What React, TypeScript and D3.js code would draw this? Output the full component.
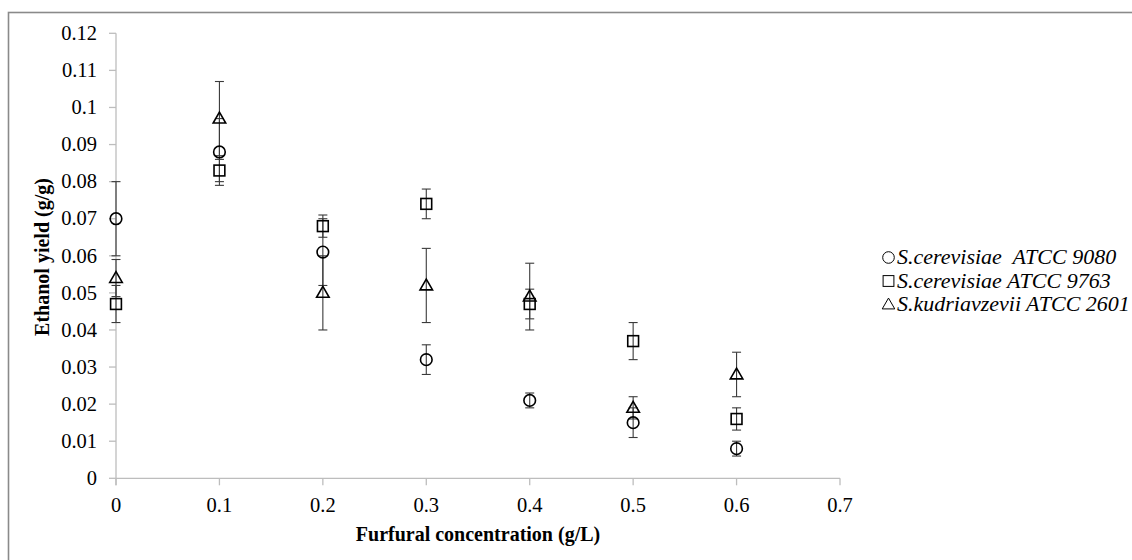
import React from "react";
import * as d3 from "d3";

const furfural = [0, 0.1, 0.2, 0.3, 0.4, 0.5, 0.6];
const atcc9080 = [0.07, 0.088, 0.061, 0.032, 0.021, 0.015, 0.008];
const atcc9080Err = [0.01, 0.009, 0.009, 0.004, 0.002, 0.004, 0.002];
const atcc9763 = [0.047, 0.083, 0.068, 0.074, 0.047, 0.037, 0.016];
const atcc9763Err = [0.005, 0.003, 0.003, 0.004, 0.004, 0.005, 0.003];
const atcc2601 = [0.054, 0.097, 0.05, 0.052, 0.049, 0.019, 0.028];
const atcc2601Err = [0.005, 0.01, 0.01, 0.01, 0.009, 0.003, 0.006];

const seriesNames = ["S.cerevisiae  ATCC 9080", "S.cerevisiae ATCC 9763", "S.kudriavzevii ATCC 2601"];
const seriesShapes = ["circle", "square", "triangle"];
const xTicks = [0, 0.1, 0.2, 0.3, 0.4, 0.5, 0.6, 0.7];
const yTicks = [0, 0.01, 0.02, 0.03, 0.04, 0.05, 0.06, 0.07, 0.08, 0.09, 0.1, 0.11, 0.12];

const W = 1132;
const H = 560;
const FONT = "'Liberation Serif', 'Times New Roman', serif";

const x = d3.scaleLinear().domain([0, 0.7]).range([116, 840]);
const y = d3.scaleLinear().domain([0, 0.12]).range([478.3, 33.3]);

const fmt = (v: number) => String(+v.toFixed(2));

function Marker({ shape, cx, cy, sw = 1.6 }: { shape: string; cx: number; cy: number; sw?: number }) {
  if (shape === "circle") {
    return <circle cx={cx} cy={cy} r={5.8} fill="none" stroke="#000" strokeWidth={sw} />;
  }
  if (shape === "square") {
    return <rect x={cx - 5.4} y={cy - 5.4} width={10.8} height={10.8} fill="none" stroke="#000" strokeWidth={sw} />;
  }
  const tri = d3.symbol().type(d3.symbolTriangle).size(68)();
  return (
    <path d={tri || ""} transform={`translate(${cx},${cy + 0.8})`} fill="none" stroke="#000" strokeWidth={sw} strokeLinejoin="miter" />
  );
}

export default function App() {
  const series = [
    { vals: atcc9080, errs: atcc9080Err },
    { vals: atcc9763, errs: atcc9763Err },
    { vals: atcc2601, errs: atcc2601Err },
  ];
  const legendY = [264, 287.5, 311];
  return (
    <svg width={W} height={H} style={{ position: "absolute", left: 0, top: 0, background: "#fff" }} fontFamily={FONT}>
      <rect x={0} y={0} width={W} height={H} fill="#fff" />
      <rect x={8.5} y={12.5} width={1200} height={600} fill="none" stroke="#8a8a8a" strokeWidth={1.6} />

      {/* axes */}
      <line x1={x(0)} x2={x(0)} y1={y(0.12)} y2={y(0) + 7} stroke="#bdbdbd" strokeWidth={1.3} />
      <line x1={x(0)} x2={x(0.7)} y1={y(0)} y2={y(0)} stroke="#bdbdbd" strokeWidth={1.3} />
      {yTicks.map((t) => (
        <g key={"y" + t}>
          <line x1={x(0) - 7} x2={x(0)} y1={y(t)} y2={y(t)} stroke="#bdbdbd" strokeWidth={1.3} />
          <text x={97} y={y(t)} dy="0.33em" textAnchor="end" fontSize={20.5} fill="#000">
            {fmt(t)}
          </text>
        </g>
      ))}
      {xTicks.map((t) => (
        <g key={"x" + t}>
          <line x1={x(t)} x2={x(t)} y1={y(0)} y2={y(0) + 7} stroke="#bdbdbd" strokeWidth={1.3} />
          <text x={x(t)} y={512} textAnchor="middle" fontSize={20.5} fill="#000">
            {fmt(t)}
          </text>
        </g>
      ))}

      {/* axis titles */}
      <text x={478} y={541} textAnchor="middle" fontSize={20} fontWeight="bold" fill="#000">
        Furfural concentration (g/L)
      </text>
      <text transform={`translate(49,257) rotate(-90)`} textAnchor="middle" fontSize={20} fontWeight="bold" fill="#000">
        Ethanol yield (g/g)
      </text>

      {/* error bars */}
      {series.map((s, si) =>
        s.vals.map((v, i) => {
          const cx = x(furfural[i]);
          const top = y(v + s.errs[i]);
          const bot = y(v - s.errs[i]);
          return (
            <g key={`e${si}-${i}`} stroke="#3a3a3a" strokeWidth={1.1}>
              <line x1={cx} x2={cx} y1={top} y2={bot} />
              <line x1={cx - 4.5} x2={cx + 4.5} y1={top} y2={top} />
              <line x1={cx - 4.5} x2={cx + 4.5} y1={bot} y2={bot} />
            </g>
          );
        })
      )}

      {/* markers */}
      {series.map((s, si) =>
        s.vals.map((v, i) => <Marker key={`m${si}-${i}`} shape={seriesShapes[si]} cx={x(furfural[i])} cy={y(v)} />)
      )}

      {/* legend */}
      {seriesNames.map((name, i) => (
        <g key={"l" + i}>
          <Marker shape={seriesShapes[i]} cx={888.5} cy={legendY[i] - 6.5} sw={1} />
          <text
            x={897}
            y={legendY[i]}
            fontSize={22}
            fontStyle="italic"
            fill="#000"
            style={{ whiteSpace: "pre" }}
          >
            {name}
          </text>
        </g>
      ))}
    </svg>
  );
}
